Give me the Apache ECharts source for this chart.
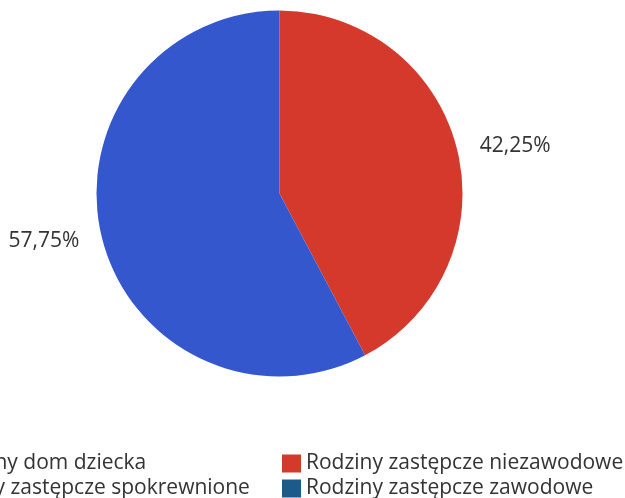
<!DOCTYPE html>
<html><head><meta charset="utf-8">
<script src="https://cdn.jsdelivr.net/npm/echarts@6/dist/echarts.min.js"></script>
<style>html,body{margin:0;padding:0;background:#fff}#c{width:625px;height:498px}</style>
</head><body><div id="c"></div>
<script>
const categories = ['Rodziny zastępcze niezawodowe', 'Rodziny zastępcze spokrewnione', 'Rodzinny dom dziecka', 'Rodziny zastępcze zawodowe'];
const values = [42.25, 57.75, 0, 0];
const colors = ['#d5392c', '#3457cd', '#e9a23b', '#1b5a8b'];
const legendLeft = ['Rodzinny dom dziecka', 'Rodziny zastępcze spokrewnione'];
const legendRight = ['Rodziny zastępcze niezawodowe', 'Rodziny zastępcze zawodowe'];

const font = 'Open Sans';
const chart = echarts.init(document.getElementById('c'), null, {renderer: 'canvas'});
const legendCommon = {
  orient: 'vertical', top: 453, height: 60, itemWidth: 19, itemHeight: 18, itemGap: 4,
  padding: 0,
  icon: 'rect', textStyle: {fontFamily: font, fontSize: 21, color: '#333', lineHeight: 18},
  selectedMode: false
};
chart.setOption({
  animation: false,
  legend: [
    Object.assign({}, legendCommon, {data: legendLeft, left: -96}),
    Object.assign({}, legendCommon, {data: legendRight, left: 282})
  ],
  series: [{
    type: 'pie',
    center: [279.5, 193.5],
    radius: 183,
    startAngle: 90,
    clockwise: true,
    stillShowZeroSum: false,
    itemStyle: {borderWidth: 0},
    label: {
      show: true, position: 'outside', fontFamily: font, fontSize: 21, color: '#333',
      overflow: 'none',
      formatter: p => p.value.toFixed(2).replace('.', ',') + '%'
    },
    labelLine: {show: false, length: 14, length2: 4},
    emphasis: {disabled: true},
    data: categories.map((n, i) => ({
      name: n, value: values[i], itemStyle: {color: colors[i]},
      label: {show: values[i] > 0}
    }))
  }]
});
</script></body></html>
